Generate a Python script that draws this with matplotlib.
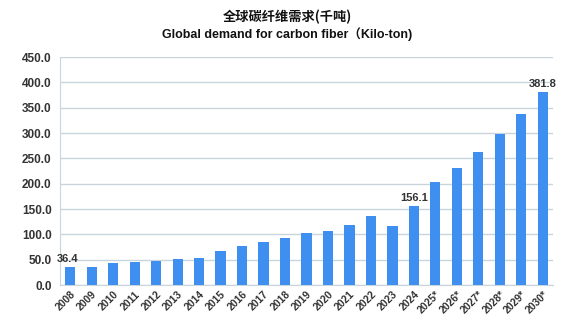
import matplotlib
matplotlib.use("Agg")
import matplotlib.pyplot as plt
import numpy as np

years = ["2008", "2009", "2010", "2011", "2012", "2013", "2014", "2015", "2016",
         "2017", "2018", "2019", "2020", "2021", "2022", "2023", "2024",
         "2025*", "2026*", "2027*", "2028*", "2029*", "2030*"]
demand = [36.4, 35.7, 42.9, 44.5, 47.0, 51.5, 54.0, 68.0, 76.5,
          84.4, 92.8, 103.4, 107.5, 118.0, 135.5, 115.5, 156.1,
          203.0, 231.0, 263.0, 298.0, 337.0, 381.8]
labelled = {"2008": "36.4", "2024": "156.1", "2030*": "381.8"}
yticks = [0, 50, 100, 150, 200, 250, 300, 350, 400, 450]

BAR = "#3f8ff0"
TXT = "#333333"
GRID = "#c9d5dd"

fig = plt.figure(figsize=(5.75, 3.28), dpi=100, facecolor="white")
ax = fig.add_axes([60 / 575, 1 - 285 / 328, (553 - 60) / 575, (285 - 57) / 328])

x = np.arange(len(years))
ax.bar(x, demand, width=0.47, color=BAR, zorder=3)

for i, (yr, v) in enumerate(zip(years, demand)):
    if yr in labelled:
        dx = -0.1 if yr == "2008" else 0.0
        ax.text(i + dx, v + 5, labelled[yr], ha="center", va="bottom",
                fontsize=8, fontweight="bold", color=TXT, family="Liberation Sans")

ax.set_xlim(-0.47, len(years) - 0.53)
ax.set_ylim(0, 450)
ax.set_yticks(yticks)
ax.set_yticklabels([f"{t:.1f}" for t in yticks], fontsize=8.5, fontweight="bold",
                   color=TXT, family="Liberation Sans")
ax.set_xticks(x)
ax.set_xticklabels(years, rotation=45, ha="right", rotation_mode="anchor",
                   fontsize=7.5, fontweight="bold", color=TXT, family="Liberation Sans")
ax.tick_params(axis="both", length=0, pad=6)
ax.tick_params(axis="x", pad=3)
ax.yaxis.grid(True, color=GRID, lw=1.0, zorder=0)
for side in ("top", "right"):
    ax.spines[side].set_visible(False)
ax.spines["left"].set_color(GRID)
ax.spines["bottom"].set_color(GRID)

fig.text(0.5, 1 - 17 / 328, "全球碳纤维需求(千吨)", ha="center", va="center",
         fontsize=9.5, fontweight="bold", color="#111111",
         family=["Noto Sans CJK SC", "DejaVu Sans"])
fig.text(0.5, 1 - 34 / 328, "Global demand for carbon fiber（Kilo-ton)", ha="center", va="center",
         fontsize=9, fontweight="bold", color="#111111",
         family=["Liberation Sans", "Noto Sans CJK SC"])

fig.savefig("out.png", dpi=100, facecolor="white")
